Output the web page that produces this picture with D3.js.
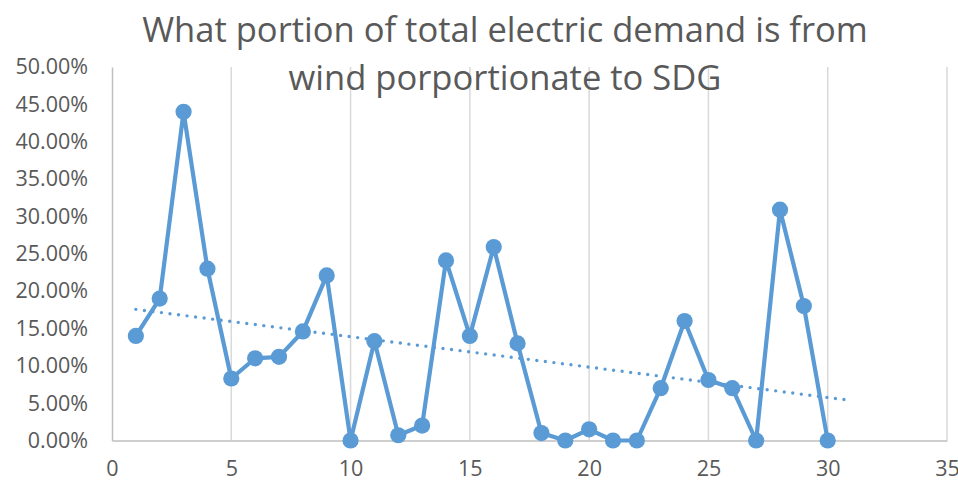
<!DOCTYPE html>
<html><head><meta charset="utf-8">
<script src="https://cdn.jsdelivr.net/npm/d3@7"></script>
<style>html,body{margin:0;padding:0;background:#fff;} svg{display:block;}</style>
</head><body>
<svg id="chart" width="958" height="480"></svg>
<script>
const titleLines = ["What portion of total electric demand is from", "wind porportionate to SDG"];
const xValues = [1,2,3,4,5,6,7,8,9,10,11,12,13,14,15,16,17,18,19,20,21,22,23,24,25,26,27,28,29,30];
const yValues = [0.140,0.190,0.440,0.230,0.083,0.110,0.112,0.146,0.221,0.000,0.133,0.007,0.020,0.241,0.140,0.259,0.130,0.010,0.000,0.015,0.000,0.000,0.070,0.160,0.081,0.070,0.000,0.309,0.180,0.000];
const xTicks = [0,5,10,15,20,25,30,35];
const yTicks = [0,0.05,0.10,0.15,0.20,0.25,0.30,0.35,0.40,0.45,0.50];
const trendForward = 1;

(function(){
const svg = d3.select("#chart");
const pLeft = 112, pRight = 947, pTop = 67, pBottom = 440.5;
const x = d3.scaleLinear().domain([0,35]).range([pLeft,pRight]);
const y = d3.scaleLinear().domain([0,0.5]).range([pBottom,pTop]);
const blue = "#5B9BD5", txt = "#595959";
const font = "'Open Sans', 'Noto Sans', sans-serif";

// vertical gridlines
svg.append("g").selectAll("line").data(xTicks.filter(d=>d>0)).join("line")
  .attr("x1",d=>x(d)).attr("x2",d=>x(d)).attr("y1",pTop).attr("y2",pBottom)
  .attr("stroke","#d9d9d9").attr("stroke-width",1.5);

// axes
const yAxis = d3.axisLeft(y).tickValues(yTicks).tickSize(0).tickPadding(24)
  .tickFormat(d=>(d*100).toFixed(2)+"%");
const gy = svg.append("g").attr("transform",`translate(${pLeft},0)`).call(yAxis);
gy.select(".domain").attr("stroke","#bfbfbf").attr("stroke-width",1.5);
gy.selectAll("text").attr("fill",txt).style("font-family",font).style("font-size","21.5px");

const xAxis = d3.axisBottom(x).tickValues(xTicks).tickSize(0).tickPadding(20).tickFormat(d3.format("d"));
const gx = svg.append("g").attr("transform",`translate(0,${pBottom})`).call(xAxis);
gx.select(".domain").attr("stroke","#bfbfbf").attr("stroke-width",1.5);
gx.selectAll("text").attr("fill",txt).style("font-family",font).style("font-size","21.5px");

// trendline (least squares)
const mx = d3.mean(xValues), my = d3.mean(yValues);
const slope = d3.sum(xValues.map((xv,i)=>(xv-mx)*(yValues[i]-my))) / d3.sum(xValues.map(xv=>(xv-mx)*(xv-mx)));
const icpt = my - slope*mx;
const x0 = d3.min(xValues), x1 = d3.max(xValues)+trendForward;
svg.append("line")
  .attr("x1",x(x0)).attr("y1",y(icpt+slope*x0))
  .attr("x2",x(x1)).attr("y2",y(icpt+slope*x1))
  .attr("stroke",blue).attr("stroke-width",3.4).attr("stroke-linecap","round")
  .attr("stroke-dasharray","0 8.6");

// series line
const data = xValues.map((xv,i)=>({x:xv,y:yValues[i]}));
svg.append("path").datum(data)
  .attr("d", d3.line().x(d=>x(d.x)).y(d=>y(d.y)))
  .attr("fill","none").attr("stroke",blue).attr("stroke-width",4.2).attr("stroke-linejoin","round");
svg.append("g").selectAll("circle").data(data).join("circle")
  .attr("cx",d=>x(d.x)).attr("cy",d=>y(d.y)).attr("r",8.1).attr("fill",blue);

// title
const cx = 505;
const t = svg.append("g");
titleLines.forEach((line,i)=>{
  t.append("text").attr("x",cx).attr("y",42+i*48).attr("text-anchor","middle")
   .attr("fill",txt).style("font-family",font).style("font-size","33px").text(line);
});
const el = t.select("text").node();
const w = el.getComputedTextLength();
const fs = 33*726/w;
t.selectAll("text").style("font-size",fs+"px");
})();
</script>
</body></html>
